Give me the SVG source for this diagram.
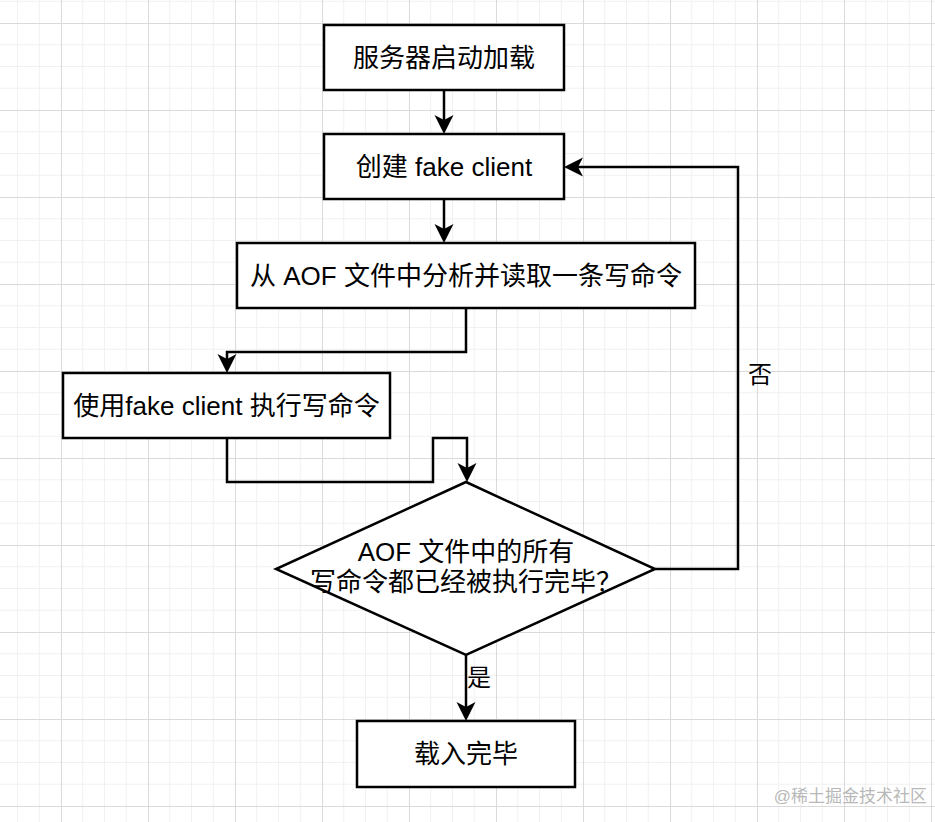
<svg xmlns="http://www.w3.org/2000/svg" width="935" height="822" viewBox="0 0 935 822">
  <style>
    .box { fill: #ffffff; stroke: #000000; stroke-width: 2.5; }
    .lbl { font-family: "Liberation Sans", "Noto Sans CJK SC", sans-serif; font-size: 26px; fill: #000000; text-anchor: middle; dominant-baseline: central; }
    .edge { fill: none; stroke: #000000; stroke-width: 2.5; marker-end: url(#arr); }
    .elbl { font-family: "Liberation Sans", "Noto Sans CJK SC", sans-serif; font-size: 24px; fill: #000000; text-anchor: middle; dominant-baseline: central; }
    .wm { font-family: "Liberation Sans", "Noto Sans CJK SC", sans-serif; font-size: 17px; fill: #b8b8b8; text-anchor: end; dominant-baseline: central; }
  </style>
  <defs>
    <pattern id="grid" patternUnits="userSpaceOnUse" x="61" y="23" width="87" height="87">
      <path d="M21.75 0V87M43.5 0V87M65.25 0V87M0 21.75H87M0 43.5H87M0 65.25H87" stroke="#f1f1f1" stroke-width="1" fill="none"/>
      <path d="M0.5 0V87M0 0.5H87" stroke="#dadada" stroke-width="1" fill="none"/>
    </pattern>
    <marker id="arr" markerUnits="userSpaceOnUse" viewBox="-6 -10 21 20" markerWidth="21" markerHeight="20" refX="0" refY="0" orient="auto">
      <path d="M14 0L-5 -9.5L0 0L-5 9.5Z" fill="#000000"/>
    </marker>
  </defs>
  <rect x="0" y="0" width="935" height="822" fill="#ffffff"/>
  <rect x="0" y="0" width="935" height="822" fill="url(#grid)"/>

  <g id="connectors">
    <path class="edge" d="M444 90V120"/>
    <path class="edge" d="M444 199V229"/>
    <path class="edge" d="M466 308V352H227V359"/>
    <path class="edge" d="M227 438V482H433V438H467V468"/>
    <path class="edge" d="M655 569H738V167H578"/>
    <path class="edge" d="M466 655V707"/>
    <text class="elbl" x="760" y="374">否</text>
    <text class="elbl" x="479" y="677">是</text>
  </g>

  <g id="n1">
    <rect class="box" x="324" y="25" width="240" height="65"/>
    <text class="lbl" x="444" y="57.5">服务器启动加载</text>
  </g>
  <g id="n2">
    <rect class="box" x="324" y="134" width="240" height="65"/>
    <text class="lbl" x="444" y="166.5">创建 fake client</text>
  </g>
  <g id="n3">
    <rect class="box" x="237" y="243" width="458" height="65"/>
    <text class="lbl" x="466" y="275.5">从 AOF 文件中分析并读取一条写命令</text>
  </g>
  <g id="n4">
    <rect class="box" x="63" y="373" width="327" height="65"/>
    <text class="lbl" x="226.5" y="405.5">使用fake client 执行写命令</text>
  </g>
  <g id="n5">
    <polygon class="box" points="466,482 655,569 466,655 276,569"/>
    <text class="lbl" x="466" y="552">AOF 文件中的所有</text>
    <text class="lbl" x="466" y="582">写命令都已经被执行完毕？</text>
  </g>
  <g id="n6">
    <rect class="box" x="357" y="721" width="218" height="66"/>
    <text class="lbl" x="466" y="754">载入完毕</text>
  </g>
  <text class="wm" x="927" y="796">@稀土掘金技术社区</text>
</svg>
